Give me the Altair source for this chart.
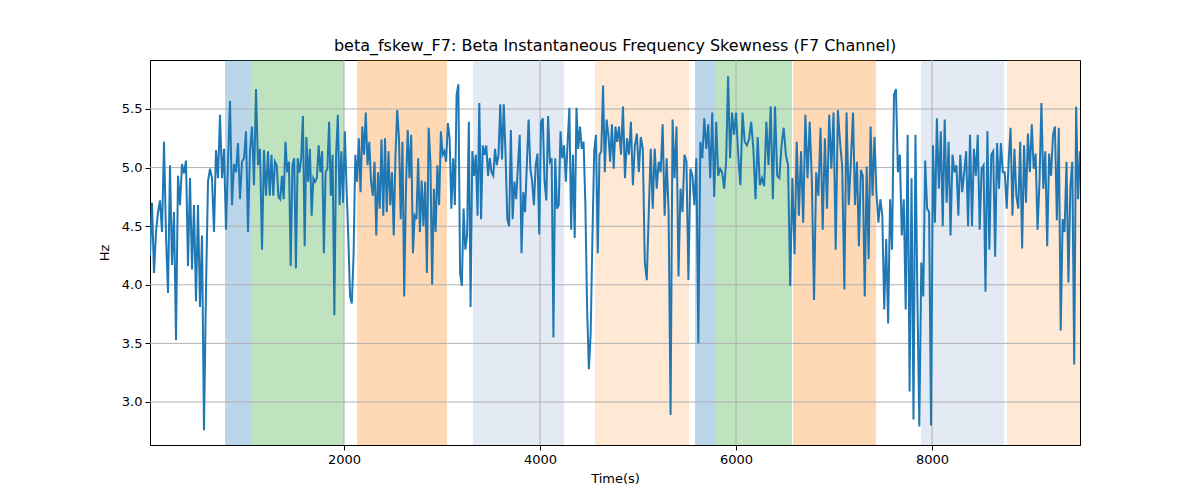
import numpy as np
import pandas as pd
import altair as alt

# time edges of the traced segments (s)
SEG_EDGES = [20, 1224, 2418, 3612, 4806, 6000, 7194, 8388, 9510]

SEG1 = [4.25, 4.70, 4.10, 4.45, 4.62, 4.72, 4.45, 5.22, 4.42, 3.93, 5.02, 4.17,
        4.62, 3.53, 4.93, 4.68, 5.03, 4.95, 5.06, 4.16, 4.91, 4.13, 4.68, 3.86, 4.68, 3.81,
        4.42, 2.76, 3.96, 4.88, 4.99, 4.91, 4.45, 5.15, 4.91, 5.45, 4.91, 5.16, 4.47, 5.05, 5.57,
        4.68, 5.03, 4.96, 5.21, 4.73, 5.05, 5.08, 5.31, 4.45, 5.14, 5.35, 4.85, 5.67, 5.02, 5.16,
        4.30, 5.15, 4.76]
SEG2 = [5.14, 4.76, 5.11, 4.76, 5.05, 5.02, 4.75, 4.73, 4.93, 4.73, 5.22, 4.96, 5.05, 4.16, 5.02,
        5.08, 4.14, 5.08, 4.96, 5.08, 5.44, 4.33, 5.26, 4.88, 5.16, 4.59, 4.91, 4.88, 4.91, 5.19,
        4.96, 5.14, 4.27, 4.96, 4.99, 5.39, 4.76, 5.11, 3.74, 5.11, 5.45, 4.68, 5.14, 4.70, 5.31,
        4.82, 4.40, 3.90, 3.84, 4.25, 5.11, 4.88, 5.25, 4.79, 5.35, 5.11, 5.47, 5.02, 5.22, 4.88,
        4.76, 5.05, 4.42, 4.96, 4.65, 5.24, 4.59]
SEG3 = [5.25, 4.62, 5.14, 4.68, 4.96, 4.42, 5.11, 5.49, 5.25, 4.56, 5.22, 3.90, 4.82, 5.32, 4.91,
        5.28, 4.27, 4.59, 4.56, 5.08, 4.45, 4.89, 4.50, 4.88, 4.10, 5.34, 5.05, 4.00, 4.82, 4.45,
        5.02, 4.68, 5.31, 5.11, 5.14, 5.05, 5.38, 5.25, 4.65, 5.08, 4.68, 5.62, 5.71, 4.10, 3.99,
        4.65, 4.30, 4.42, 5.39, 3.81, 5.14, 4.93, 5.11, 4.59, 5.55, 4.56, 5.19, 5.11, 5.19, 4.93,
        5.08, 4.96, 4.93, 5.16, 5.02, 5.11, 5.54]
SEG4 = [5.07, 5.54, 5.11, 4.56, 4.50, 5.32, 4.56, 4.88, 4.73, 5.02, 5.28, 4.27, 4.79, 4.62, 5.02,
        5.41, 4.99, 4.88, 4.68, 5.02, 5.12, 4.43, 5.39, 5.42, 4.88, 4.72, 5.44, 5.05, 5.08, 3.55,
        5.08, 4.65, 4.68, 5.31, 5.08, 5.19, 4.88, 5.21, 5.51, 4.47, 5.11, 4.40, 5.51, 5.16, 5.35,
        5.16, 5.22, 4.70, 3.80, 3.28, 3.58, 4.40, 5.14, 5.28, 4.27, 5.11, 5.14, 5.70, 4.96, 5.41,
        5.28, 5.05, 5.37, 4.99, 5.35, 5.22]
SEG5 = [5.35, 5.11, 5.52, 4.91, 5.25, 5.11, 5.39, 4.85, 5.19, 5.29, 4.96, 5.26, 5.16, 4.19, 4.04,
        4.62, 5.16, 4.65, 5.16, 4.82, 5.05, 4.96, 5.37, 4.59, 5.08, 4.62, 2.89, 5.41, 4.91, 5.35,
        4.07, 4.82, 4.62, 5.11, 5.05, 4.04, 4.99, 4.93, 4.68, 5.08, 3.50, 5.22, 5.08, 5.42, 5.16,
        5.37, 4.91, 5.47, 4.75, 5.39, 4.93, 4.99, 4.96, 4.82, 5.05, 5.78, 5.08, 5.47, 5.28]
SEG6 = [5.47, 5.11, 4.85, 5.47, 5.22, 5.19, 5.24, 5.39, 5.16, 4.73, 5.26, 4.85, 4.91, 4.84, 5.39,
        5.02, 5.52, 4.73, 5.52, 4.93, 4.91, 5.19, 5.34, 5.11, 5.02, 3.99, 4.91, 4.26, 5.22, 4.59,
        5.14, 4.53, 5.45, 4.91, 5.39, 4.88, 3.87, 4.96, 4.76, 5.34, 4.47, 5.25, 4.65, 5.45, 4.99,
        5.47, 4.30, 5.49, 5.22, 5.01, 3.96, 5.47, 4.68, 5.05]
SEG7 = [5.47, 4.68, 5.05, 4.33, 4.98, 4.93, 3.90, 5.01, 4.22, 5.35, 4.76, 5.26, 4.79, 4.53, 4.73,
        4.59, 3.79, 4.39, 3.67, 4.73, 4.30, 5.62, 5.67, 4.96, 5.11, 4.42, 4.73, 3.79, 5.28, 3.09,
        4.91, 2.85, 5.28, 3.90, 2.79, 4.19, 3.90, 5.06, 4.65, 4.62, 2.80, 5.19, 4.53, 5.42, 4.82,
        5.31, 4.50, 5.41, 4.70, 5.22, 4.42, 5.11, 4.96, 5.02, 4.59, 5.11, 4.79, 4.96, 5.14, 4.50]
SEG8 = [5.28, 4.50, 5.16, 4.93, 5.28, 4.47, 4.99, 5.02, 3.94, 5.31, 4.30, 5.11, 5.14, 4.24, 5.21,
        4.82, 5.21, 4.96, 4.96, 4.65, 5.05, 5.34, 4.59, 5.16, 4.76, 4.65, 5.22, 4.31, 5.19, 4.70,
        5.29, 4.96, 5.37, 4.99, 5.12, 4.47, 4.88, 5.55, 4.82, 5.14, 4.33, 5.12, 4.93, 5.28, 5.35,
        4.55, 5.34, 3.61, 4.56, 4.45, 5.05, 4.02, 4.83, 5.05, 3.32, 5.52, 4.73, 5.14]

# shaded epochs
BAND_START = [786, 1051, 2133, 3316, 4561, 5582, 5786, 6582, 7888, 8765]
BAND_END = [1051, 2000, 3051, 4245, 5520, 5786, 6571, 7429, 8735, 9510]
BAND_COLOR = ['#1f77b4', '#2ca02c', '#ff7f0e', '#4c72b0', '#ff7f0e',
              '#1f77b4', '#2ca02c', '#ff7f0e', '#4c72b0', '#ff7f0e']
BAND_ALPHA = [0.3, 0.3, 0.3, 0.15, 0.18, 0.3, 0.3, 0.3, 0.15, 0.18]

X_TICKS = [2000, 4000, 6000, 8000]
Y_TICKS = [3.0, 3.5, 4.0, 4.5, 5.0, 5.5]
X_DOMAIN = [20, 9510]
Y_DOMAIN = [2.633, 5.918]

segs = [SEG1, SEG2, SEG3, SEG4, SEG5, SEG6, SEG7, SEG8]
times, vals = [], []
for k, s in enumerate(segs):
    last = k == len(segs) - 1
    times += list(np.linspace(SEG_EDGES[k], SEG_EDGES[k + 1], len(s), endpoint=last))
    vals += s
sig = pd.DataFrame({'t': times, 'v': vals})
bands = pd.DataFrame({'start': BAND_START, 'end': BAND_END, 'color': BAND_COLOR, 'alpha': BAND_ALPHA})

xs = alt.Scale(domain=X_DOMAIN, nice=False, zero=False)
ys = alt.Scale(domain=Y_DOMAIN, nice=False, zero=False)

band_layer = alt.Chart(bands).mark_rect().encode(
    x=alt.X('start:Q', scale=xs),
    x2='end:Q',
    color=alt.Color('color:N', scale=None),
    opacity=alt.Opacity('alpha:Q', scale=None))

xgrid = alt.Chart(pd.DataFrame({'x': X_TICKS})).mark_rule(color='#b0b0b0', strokeWidth=1).encode(
    x=alt.X('x:Q', scale=xs))
ygrid = alt.Chart(pd.DataFrame({'y': Y_TICKS})).mark_rule(color='#b0b0b0', strokeWidth=1).encode(
    y=alt.Y('y:Q', scale=ys))

line = alt.Chart(sig).mark_line(color='#1f77b4', strokeWidth=2, clip=True).encode(
    x=alt.X('t:Q', scale=xs, title='Time(s)',
            axis=alt.Axis(values=X_TICKS, format='d', grid=False, tickSize=5, tickColor='black',
                          domainColor='black', labelColor='black', labelFontSize=13, labelPadding=3,
                          titleFontSize=13, titleFontWeight='normal', titleColor='black', titlePadding=6)),
    y=alt.Y('v:Q', scale=ys, title='Hz',
            axis=alt.Axis(values=Y_TICKS, format='.1f', grid=False, tickSize=5, tickColor='black',
                          domainColor='black', labelColor='black', labelFontSize=13, labelPadding=3,
                          titleFontSize=13, titleFontWeight='normal', titleColor='black', titlePadding=10)))

chart = alt.layer(band_layer, xgrid, ygrid, line).properties(
    width=930, height=385,
    title=alt.Title('beta_fskew_F7: Beta Instantaneous Frequency Skewness (F7 Channel)',
                    fontSize=16, fontWeight='normal', color='black', offset=6),
    autosize=alt.AutoSizeParams(type='none'),
    padding={'left': 142, 'top': 52, 'right': 112, 'bottom': 47},
).configure(font='DejaVu Sans').configure_view(stroke='black', strokeWidth=1)

chart.save("out.html", embed_options={"renderer": "svg", "actions": False})
